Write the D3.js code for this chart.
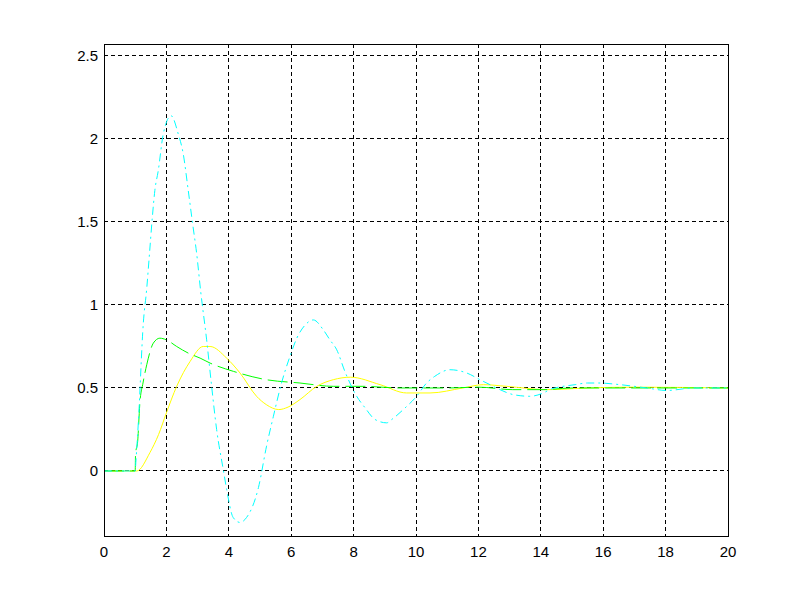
<!DOCTYPE html>
<html lang="en">
<head>
  <meta charset="UTF-8">
  <title>Step responses</title>
  <style>
    body { margin: 0; background: #fff; }
    text { font-family: "Liberation Sans", Arial, sans-serif; }
  </style>
</head>
<body>
  <svg id="container" width="800" height="600"></svg>
<script src="https://cdn.jsdelivr.net/npm/d3@7"></script>
<script>
  // data
  let xTicks = [0, 2, 4, 6, 8, 10, 12, 14, 16, 18, 20]
  let yTicks = [0, 0.5, 1, 1.5, 2, 2.5]

  let cyanT = [0, 1.0, 1.02, 1.1, 1.26, 1.37, 1.45, 1.55, 1.63, 1.74, 1.9, 2.15, 2.38, 2.54, 2.7, 2.84, 2.97, 3.1, 3.29, 3.45, 3.61, 3.83, 3.93, 4.14, 4.36, 4.57, 4.95, 5.21, 5.43, 5.69, 5.96, 6.18, 6.45, 6.71, 7.03, 7.24, 7.46, 7.72, 8.1, 8.37, 8.69, 9.06, 9.22, 9.65, 10.02, 10.34, 10.6, 11.09, 11.63, 12.05, 12.37, 12.69, 13.12, 13.65, 14.08, 14.29, 15.1, 15.5, 15.85, 16.54, 17.4, 18.04, 18.9, 20]
  let cyanY = [0, 0, 0.05, 0.29, 0.89, 1.10, 1.29, 1.53, 1.69, 1.81, 2.03, 2.14, 2.03, 1.91, 1.69, 1.49, 1.31, 1.08, 0.79, 0.51, 0.25, 0.0, -0.11, -0.28, -0.31, -0.28, -0.10, 0.15, 0.33, 0.53, 0.69, 0.80, 0.88, 0.91, 0.85, 0.79, 0.73, 0.60, 0.45, 0.38, 0.31, 0.29, 0.31, 0.38, 0.45, 0.53, 0.57, 0.61, 0.59, 0.55, 0.52, 0.49, 0.46, 0.45, 0.47, 0.49, 0.52, 0.53, 0.53, 0.52, 0.50, 0.485, 0.50, 0.50]

  let greenT = [0, 1.0, 1.01, 1.08, 1.15, 1.25, 1.37, 1.58, 1.79, 2.0, 2.33, 2.7, 3.08, 3.4, 4.15, 5.2, 6.28, 7.35, 8.3, 9.5, 11, 12, 13.1, 14.1, 15, 20]
  let greenY = [0, 0, 0.1, 0.18, 0.41, 0.53, 0.64, 0.77, 0.80, 0.79, 0.75, 0.71, 0.68, 0.65, 0.60, 0.55, 0.53, 0.51, 0.51, 0.50, 0.50, 0.505, 0.49, 0.49, 0.50, 0.50]

  let yellowT = [0, 1.05, 1.47, 1.75, 2.0, 2.33, 2.76, 3.18, 3.4, 3.93, 4.36, 4.89, 5.2, 5.6, 5.9, 6.28, 6.82, 7.35, 7.9, 8.85, 9.7, 10.45, 11.5, 12.16, 12.9, 14.2, 15.5, 17, 20]
  let yellowY = [0, 0, 0.11, 0.22, 0.35, 0.51, 0.66, 0.75, 0.75, 0.68, 0.59, 0.45, 0.40, 0.37, 0.385, 0.43, 0.51, 0.55, 0.565, 0.52, 0.47, 0.47, 0.50, 0.52, 0.51, 0.49, 0.50, 0.505, 0.50]

  let svg = d3.select("#container")
  let plotLeft = 104, plotRight = 728, plotTop = 44, plotBottom = 536

  let x = d3.scaleLinear().domain([0, 20]).range([plotLeft, plotRight])
  let y = d3.scaleLinear().domain([-0.3916, 2.572]).range([plotBottom, plotTop])

  // grid
  let grid = svg.append("g").attr("class", "grid")
  grid.selectAll("line.gx")
      .data(xTicks.slice(1, -1))
      .enter()
      .append("line")
      .attr("class", "gx")
      .attr("x1", d => x(d)).attr("x2", d => x(d))
      .attr("y1", plotTop).attr("y2", plotBottom)
  grid.selectAll("line.gy")
      .data(yTicks)
      .enter()
      .append("line")
      .attr("class", "gy")
      .attr("y1", d => y(d)).attr("y2", d => y(d))
      .attr("x1", plotLeft).attr("x2", plotRight)
  grid.selectAll("line")
      .attr("stroke", "black")
      .attr("stroke-width", 1)
      .attr("stroke-dasharray", "4,3")
      .attr("shape-rendering", "crispEdges")

  // series: yellow bottom, green, cyan top
  let series = [
    {t: yellowT, v: yellowY, color: "#ffff00", dash: null},
    {t: greenT, v: greenY, color: "#00ff00", dash: "20,6"},
    {t: cyanT, v: cyanY, color: "#00ffff", dash: "8,4,2,4"}
  ]

  let line = d3.line()
               .x(d => x(d[0]))
               .y(d => y(d[1]))
               .curve(d3.curveMonotoneX)

  svg.append("g")
     .attr("class", "lines")
     .selectAll("path")
     .data(series)
     .enter()
     .append("path")
     .attr("d", s => line(s.t.map((t, i) => [t, s.v[i]])))
     .attr("fill", "none")
     .attr("stroke", s => s.color)
     .attr("stroke-width", 1)
     .attr("stroke-dasharray", s => s.dash)

  // box
  svg.append("rect")
     .attr("x", plotLeft).attr("y", plotTop)
     .attr("width", plotRight - plotLeft).attr("height", plotBottom - plotTop)
     .attr("fill", "none")
     .attr("stroke", "black")
     .attr("shape-rendering", "crispEdges")

  // tick labels
  svg.append("g")
     .selectAll("text")
     .data(xTicks)
     .enter()
     .append("text")
     .attr("x", d => x(d))
     .attr("y", 557)
     .attr("text-anchor", "middle")
     .attr("font-size", 15)
     .text(d => d)

  svg.append("g")
     .selectAll("text")
     .data(yTicks)
     .enter()
     .append("text")
     .attr("x", plotLeft - 6)
     .attr("y", d => y(d) + 5)
     .attr("text-anchor", "end")
     .attr("font-size", 15)
     .text(d => d)
</script>
</body>
</html>
